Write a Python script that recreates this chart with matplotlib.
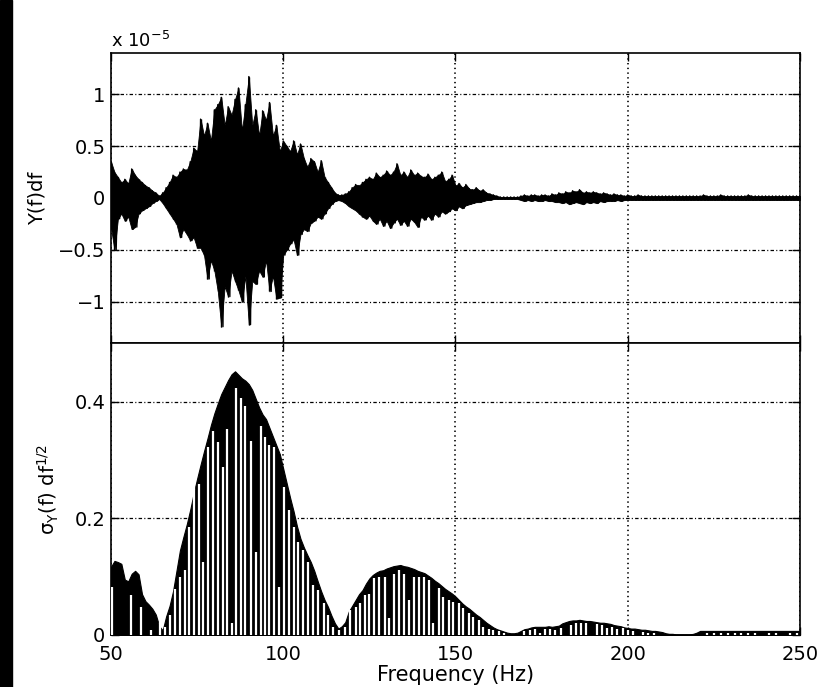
import numpy as np
import matplotlib
matplotlib.use("Agg")
import matplotlib.pyplot as plt
from matplotlib.patches import Rectangle

plt.rcParams['font.family'] = ['DejaVu Sans']
plt.rcParams['mathtext.default'] = 'regular'
plt.rcParams['lines.scale_dashes'] = False

# top panel: Y(f)df in units of 1e-5, one value per Hz from 50 to 250
freq = np.arange(50, 251)
y_upper = [
    0.35, 0.25, 0.20, 0.15, 0.18, 0.14, 0.28, 0.22, 0.18, 0.15,
    0.12, 0.10, 0.07, 0.05, 0.02, 0.05, 0.10, 0.15, 0.22, 0.20,
    0.25, 0.28, 0.27, 0.35, 0.48, 0.45, 0.76, 0.60, 0.72, 0.55,
    0.85, 0.90, 0.97, 0.70, 0.88, 0.80, 0.95, 1.06, 0.65, 0.90,
    1.17, 0.70, 0.85, 0.60, 0.84, 0.75, 0.92, 0.60, 0.70, 0.45,
    0.55, 0.50, 0.45, 0.55, 0.42, 0.52, 0.38, 0.30, 0.38, 0.35,
    0.25, 0.36, 0.20, 0.15, 0.10, 0.05, 0.03, 0.03, 0.04, 0.06,
    0.10, 0.13, 0.12, 0.15, 0.18, 0.20, 0.18, 0.24, 0.20, 0.22,
    0.26, 0.22, 0.25, 0.33, 0.22, 0.25, 0.20, 0.27, 0.22, 0.24,
    0.21, 0.20, 0.23, 0.18, 0.20, 0.22, 0.25, 0.16, 0.18, 0.22,
    0.12, 0.14, 0.10, 0.13, 0.09, 0.08, 0.10, 0.07, 0.08, 0.05,
    0.04, 0.03, 0.02, 0.01, 0.01, 0.01, 0.01, 0.01, 0.01, 0.02,
    0.03, 0.02, 0.03, 0.03, 0.02, 0.03, 0.03, 0.02, 0.04, 0.03,
    0.05, 0.04, 0.06, 0.05, 0.07, 0.06, 0.08, 0.05, 0.06, 0.05,
    0.06, 0.05, 0.04, 0.05, 0.04, 0.03, 0.04, 0.03, 0.03, 0.02,
    0.03, 0.02, 0.02, 0.03, 0.02, 0.02, 0.02, 0.02, 0.02, 0.02,
    0.02, 0.02, 0.02, 0.02, 0.02, 0.02, 0.02, 0.02, 0.02, 0.02,
    0.02, 0.02, 0.03, 0.02, 0.02, 0.02, 0.02, 0.03, 0.02, 0.02,
    0.02, 0.02, 0.02, 0.02, 0.02, 0.03, 0.02, 0.02, 0.02, 0.02,
    0.02, 0.02, 0.02, 0.02, 0.02, 0.02, 0.02, 0.02, 0.02, 0.02,
    0.02,
]
y_lower = [
    -0.29, -0.50, -0.20, -0.15, -0.22, -0.18, -0.30, -0.28, -0.15, -0.12,
    -0.10, -0.08, -0.05, -0.03, -0.01, -0.05, -0.10, -0.15, -0.20, -0.25,
    -0.38, -0.30, -0.35, -0.41, -0.38, -0.48, -0.48, -0.55, -0.78, -0.60,
    -0.70, -0.90, -1.24, -0.85, -0.95, -0.70, -0.80, -0.89, -1.00, -0.75,
    -1.22, -0.80, -0.83, -0.70, -0.76, -0.60, -0.90, -0.75, -0.97, -0.96,
    -0.55, -0.50, -0.44, -0.40, -0.55, -0.35, -0.30, -0.32, -0.24, -0.22,
    -0.18, -0.20, -0.15, -0.10, -0.06, -0.03, -0.02, -0.03, -0.05, -0.08,
    -0.10, -0.12, -0.15, -0.18, -0.20, -0.17, -0.22, -0.25, -0.20, -0.27,
    -0.22, -0.29, -0.24, -0.20, -0.26, -0.22, -0.27, -0.20, -0.23, -0.28,
    -0.18, -0.21, -0.17, -0.21, -0.15, -0.18, -0.13, -0.15, -0.13, -0.10,
    -0.12, -0.08, -0.10, -0.07, -0.06, -0.05, -0.04, -0.04, -0.03, -0.02,
    -0.02, -0.01, -0.01, -0.01, -0.01, -0.01, -0.01, -0.01, -0.01, -0.02,
    -0.03, -0.02, -0.03, -0.02, -0.03, -0.03, -0.02, -0.03, -0.03, -0.04,
    -0.04, -0.05, -0.04, -0.06, -0.05, -0.04, -0.05, -0.06, -0.04, -0.05,
    -0.04, -0.05, -0.03, -0.04, -0.03, -0.03, -0.03, -0.02, -0.03, -0.02,
    -0.02, -0.02, -0.02, -0.02, -0.02, -0.02, -0.02, -0.02, -0.02, -0.02,
    -0.02, -0.02, -0.02, -0.02, -0.02, -0.02, -0.02, -0.02, -0.02, -0.02,
    -0.02, -0.02, -0.02, -0.02, -0.02, -0.02, -0.02, -0.02, -0.02, -0.02,
    -0.02, -0.02, -0.02, -0.02, -0.02, -0.02, -0.02, -0.02, -0.02, -0.02,
    -0.02, -0.02, -0.02, -0.02, -0.02, -0.02, -0.02, -0.02, -0.02, -0.02,
    -0.02,
]

# bottom panel: sigma_Y(f) df^1/2 envelope, one value per Hz from 50 to 250
sigma = [
    0.117, 0.127, 0.125, 0.122, 0.095, 0.092, 0.105, 0.110, 0.104, 0.070,
    0.058, 0.052, 0.045, 0.035, 0.015, 0.008, 0.032, 0.050, 0.075, 0.110,
    0.145, 0.168, 0.190, 0.215, 0.243, 0.268, 0.292, 0.315, 0.337, 0.360,
    0.380, 0.397, 0.413, 0.425, 0.437, 0.447, 0.452, 0.446, 0.440, 0.436,
    0.430, 0.420, 0.405, 0.390, 0.378, 0.370, 0.355, 0.340, 0.325, 0.310,
    0.285, 0.260, 0.235, 0.212, 0.186, 0.165, 0.150, 0.137, 0.125, 0.110,
    0.092, 0.075, 0.060, 0.048, 0.033, 0.020, 0.011, 0.015, 0.022, 0.040,
    0.050, 0.060, 0.070, 0.077, 0.088, 0.097, 0.103, 0.107, 0.110, 0.111,
    0.114, 0.116, 0.118, 0.119, 0.120, 0.118, 0.117, 0.115, 0.113, 0.110,
    0.108, 0.106, 0.102, 0.098, 0.093, 0.089, 0.084, 0.079, 0.075, 0.071,
    0.066, 0.060, 0.054, 0.049, 0.045, 0.040, 0.035, 0.031, 0.026, 0.021,
    0.017, 0.013, 0.010, 0.008, 0.006, 0.004, 0.003, 0.003, 0.004, 0.007,
    0.010, 0.011, 0.013, 0.014, 0.014, 0.014, 0.014, 0.015, 0.014, 0.015,
    0.016, 0.020, 0.022, 0.024, 0.025, 0.025, 0.026, 0.025, 0.024, 0.024,
    0.023, 0.022, 0.021, 0.021, 0.020, 0.019, 0.017, 0.016, 0.015, 0.013,
    0.012, 0.011, 0.011, 0.010, 0.009, 0.009, 0.008, 0.007, 0.007, 0.006,
    0.005, 0.003, 0.002, 0.002, 0.001, 0.001, 0.001, 0.001, 0.001, 0.002,
    0.004, 0.007, 0.007, 0.007, 0.007, 0.007, 0.007, 0.007, 0.007, 0.007,
    0.007, 0.007, 0.007, 0.007, 0.007, 0.007, 0.007, 0.007, 0.007, 0.007,
    0.007, 0.007, 0.007, 0.007, 0.007, 0.007, 0.007, 0.007, 0.007, 0.007,
    0.007,
]

# white gaps between the bars (frequency, height)
gap_f = [50.4, 55.9, 58.7, 61.6, 64.3, 65.6, 67.0, 68.7, 70.0, 71.4,
         72.7, 74.2, 75.5, 76.8, 78.2, 79.6, 81.1, 82.5, 83.7, 85.0,
         86.3, 87.8, 89.0, 90.6, 92.1, 93.5, 94.8, 96.0, 97.4, 98.9,
         100.3, 101.7, 103.0, 104.3, 105.8, 107.3, 108.7, 110.2, 111.7, 113.1,
         114.3, 116.2, 117.9, 119.5, 121.0, 122.2, 123.6, 125.0, 126.4, 127.9,
         129.4, 130.8, 132.1, 133.5, 135.0, 136.4, 137.9, 139.3, 140.8, 142.2,
         143.6, 145.1, 146.5, 148.0, 149.4, 150.9, 152.3, 153.8, 155.2, 156.7,
         158.1, 159.6, 161.0, 162.5, 164.0, 170.0, 171.5, 173.0, 174.5, 176.0,
         177.5, 179.0, 180.5, 183.5, 185.0, 186.5, 188.0, 191.0, 192.5, 194.0,
         195.5, 197.0, 198.5, 200.0, 201.5, 204.5, 206.0, 207.5, 223.0, 225.0,
         227.0, 229.0, 231.0, 233.0, 235.0, 237.0, 241.0, 243.0, 247.0, 249.0]
gap_h = [0.083, 0.068, 0.048, 0.009, 0.022, 0.014, 0.034, 0.078, 0.100, 0.112,
         0.185, 0.253, 0.259, 0.125, 0.322, 0.350, 0.330, 0.288, 0.353, 0.020,
         0.424, 0.407, 0.393, 0.333, 0.142, 0.359, 0.339, 0.325, 0.322, 0.083,
         0.253, 0.214, 0.185, 0.160, 0.145, 0.125, 0.085, 0.077, 0.054, 0.034,
         0.014, 0.009, 0.014, 0.043, 0.048, 0.054, 0.068, 0.071, 0.097, 0.100,
         0.100, 0.029, 0.105, 0.111, 0.105, 0.060, 0.100, 0.100, 0.100, 0.094,
         0.020, 0.080, 0.065, 0.060, 0.057, 0.054, 0.046, 0.037, 0.031, 0.026,
         0.014, 0.011, 0.009, 0.006, 0.003, 0.006, 0.008, 0.010, 0.004, 0.010,
         0.011, 0.008, 0.012, 0.017, 0.020, 0.021, 0.020, 0.018, 0.017, 0.012,
         0.014, 0.010, 0.012, 0.009, 0.007, 0.005, 0.004, 0.004, 0.004, 0.004,
         0.004, 0.004, 0.004, 0.004, 0.004, 0.004, 0.004, 0.004, 0.004, 0.004]

xticks = [50, 100, 150, 200, 250]

fig = plt.figure(figsize=(8.26, 6.87), dpi=100)
fig.patches.append(Rectangle((0, 0), 12 / 826, 1, transform=fig.transFigure,
                             color='black', zorder=0))

ax1 = fig.add_axes([0.1344, 0.5003, 0.8341, 0.4230])
ax2 = fig.add_axes([0.1344, 0.0757, 0.8341, 0.4246])

# solid band between the envelopes, with the spikes drawn on top
ax1.fill_between(freq, y_lower, y_upper, color='black', lw=0.6, zorder=2)
ax1.vlines(freq, y_lower, y_upper, color='black', lw=1.0, zorder=2)
xs = np.empty(2 * len(freq))
ys = np.empty(2 * len(freq))
xs[0::2] = freq
xs[1::2] = freq + 0.5
ys[0::2] = y_upper
ys[1::2] = y_lower
ax1.plot(xs, ys, color='black', lw=1.0, zorder=2)
ax1.set_ylim(-1.4, 1.4)
ax1.set_yticks([-1, -0.5, 0, 0.5, 1])
ax1.set_yticklabels(['\u22121', '\u22120.5', '0', '0.5', '1'])
ax1.set_xticklabels([])
ax1.set_ylabel('Y(f)df', fontsize=14, labelpad=8)
ax1.text(0.0, 1.005, r'x 10$^{-5}$', transform=ax1.transAxes,
         fontsize=13, ha='left', va='bottom')

ax2.fill_between(freq, 0, sigma, color='black', lw=0.8, edgecolor='black', zorder=2)
ax2.vlines(gap_f, 0, gap_h, color='white', lw=1.6, zorder=3)
ax2.set_ylim(0, 0.5)
ax2.set_yticks([0, 0.2, 0.4])
ax2.set_yticklabels(['0', '0.2', '0.4'])
ax2.set_xlabel('Frequency (Hz)', fontsize=15, labelpad=1)
ax2.set_ylabel(r'$\sigma_Y$(f) df$^{1/2}$', fontsize=14, labelpad=10)

for ax in (ax1, ax2):
    ax.set_xlim(50, 250)
    ax.set_xticks(xticks)
    ax.tick_params(direction='in', length=6, width=1, top=True, right=True,
                   labelsize=14, pad=4)
    for s in ax.spines.values():
        s.set_linewidth(1.2)
    ax.set_axisbelow(False)
    ax.yaxis.grid(True, color='black', lw=0.9, linestyle=(0, (2.5, 1.6, 0.8, 1.6)), zorder=4)
    ax.xaxis.grid(True, color='black', lw=1.2, linestyle=(0, (1.0, 2.4)), zorder=4)
ax2.set_xticklabels([str(t) for t in xticks])
ax2.tick_params(axis='x', pad=7)

fig.savefig('out.png', dpi=100)
